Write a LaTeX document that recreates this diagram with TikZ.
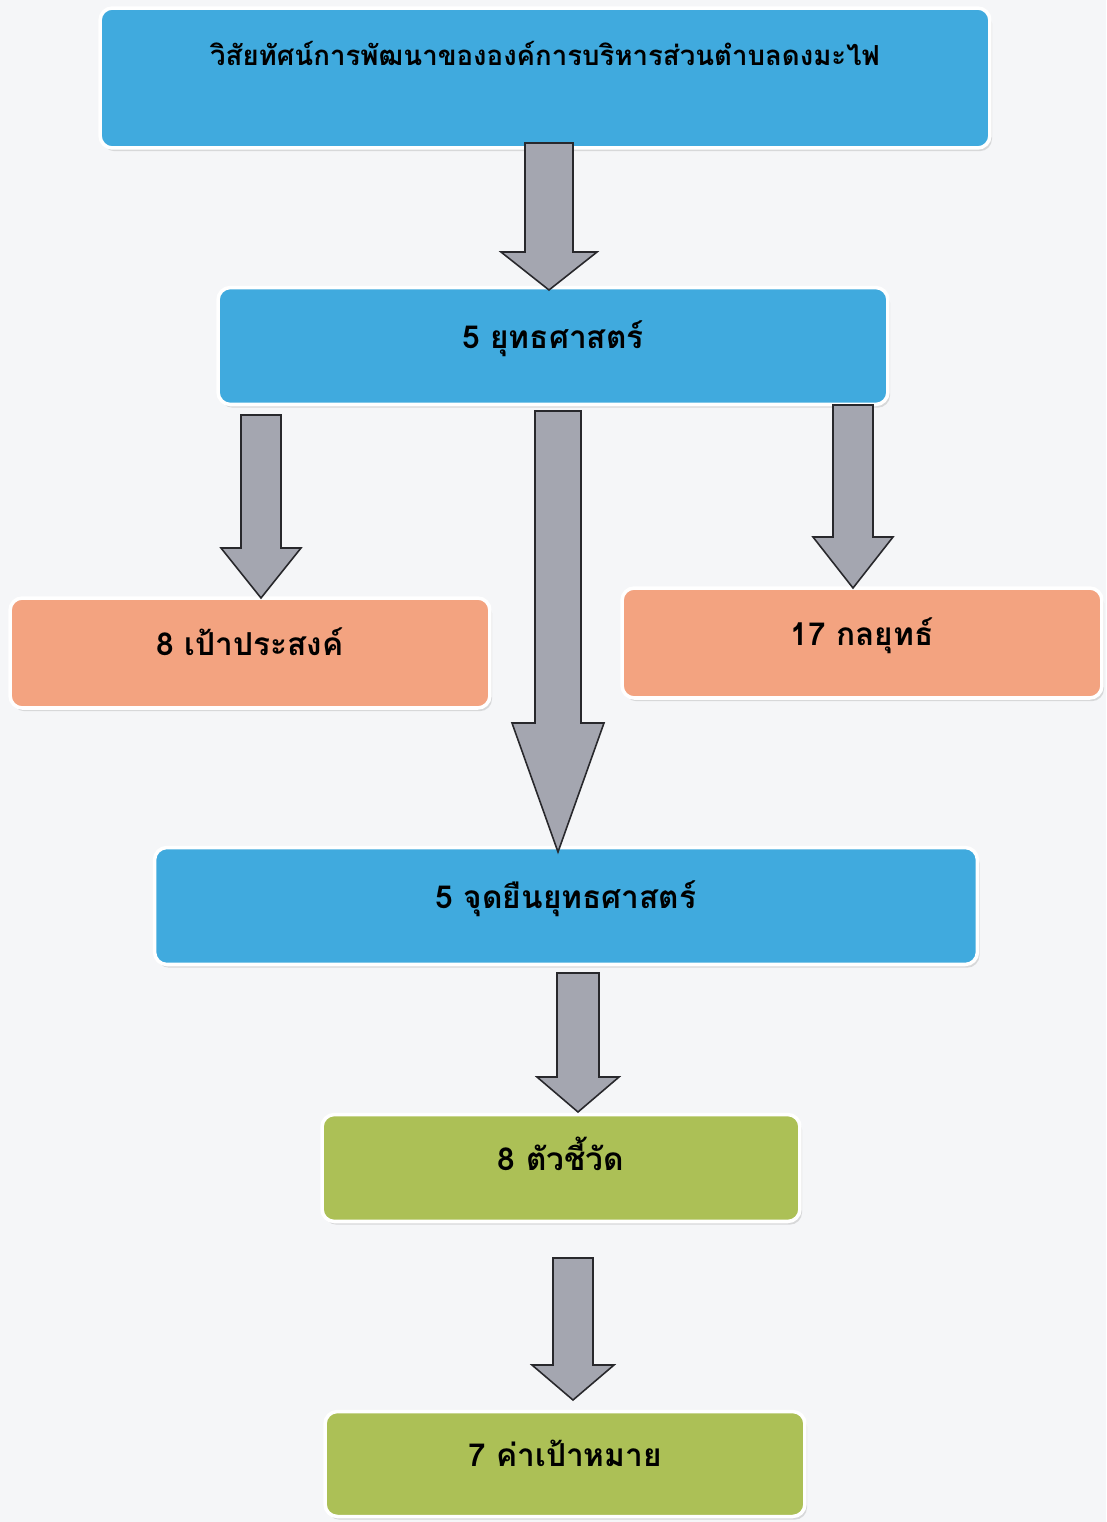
\documentclass[tikz,border=0pt]{standalone}
\usepackage{fontspec}
\newfontfamily\thaifont[Script=Thai]{Loma}
\usetikzlibrary{calc,shadows,positioning}

\definecolor{paper}{RGB}{245,246,248}
\definecolor{boxblue}{RGB}{64,170,222}
\definecolor{boxsalmon}{RGB}{243,163,128}
\definecolor{boxgreen}{RGB}{172,192,86}
\definecolor{arrowgray}{RGB}{164,166,176}
\definecolor{arrowline}{RGB}{40,40,44}

\tikzset{
  stage/.style={rounded corners=7pt, draw=white, line width=2pt,
    font=\thaifont\bfseries\fontsize{18}{21}\selectfont,
    text height=0.5cm, text depth=0.4cm,
    drop shadow={opacity=0.25, shadow xshift=1.2pt, shadow yshift=-1.8pt}},
  bluestage/.style={stage, fill=boxblue},
  salmonstage/.style={stage, fill=boxsalmon},
  greenstage/.style={stage, fill=boxgreen},
  blockarrow/.style={fill=arrowgray, draw=arrowline, line width=0.9pt, line join=miter}
}

% block arrow: start, tip, shaft half width, head half width, head length (px)
\newcommand{\blkarrow}[5]{%
  \draw[blockarrow] ($(#1)+(-#3,0)$) -- ($(#2)+(-#3,-#5)$) -- ($(#2)+(-#4,-#5)$)
    -- (#2) -- ($(#2)+(#4,-#5)$) -- ($(#2)+(#3,-#5)$) -- ($(#1)+(#3,0)$) -- cycle;}

\begin{document}
\begin{tikzpicture}[x=0.02cm, y=-0.02cm]

  \useasboundingbox[fill=paper] (0,0) rectangle (1106,1522);

  \node[bluestage, minimum width=17.8cm, minimum height=2.8cm, text depth=1.0cm,
        font=\thaifont\bfseries\fontsize{15.7}{19}\selectfont] (vision) at (545,78)
    {วิสัยทัศน์การพัฒนาขององค์การบริหารส่วนตำบลดงมะไฟ};
  \node[bluestage, minimum width=13.4cm, minimum height=2.34cm] (strategy) at (553,346) {5 ยุทธศาสตร์};
  \node[salmonstage, minimum width=9.6cm, minimum height=2.2cm] (goal) at (250,653) {8 เป้าประสงค์};
  \node[salmonstage, minimum width=9.6cm, minimum height=2.2cm] (tactic) at (862,643) {17 กลยุทธ์};
  \node[bluestage, minimum width=16.46cm, minimum height=2.34cm] (position) at (566,906) {5 จุดยืนยุทธศาสตร์};
  \node[greenstage, minimum width=9.56cm, minimum height=2.14cm] (indicator) at (561,1168) {8 ตัวชี้วัด};
  \node[greenstage, minimum width=9.6cm, minimum height=2.1cm] (target) at (565,1464) {7 ค่าเป้าหมาย};

  \coordinate (visionOut) at (549,143);   \coordinate (strategyIn) at (549,290);
  \coordinate (goalOut) at (261,415);     \coordinate (goalIn) at (261,598);
  \coordinate (positionOut) at (558,411); \coordinate (positionIn) at (558,852);
  \coordinate (tacticOut) at (853,405);   \coordinate (tacticIn) at (853,588);
  \coordinate (indicatorOut) at (578,973); \coordinate (indicatorIn) at (578,1112);
  \coordinate (targetOut) at (573,1258);  \coordinate (targetIn) at (573,1400);

  \blkarrow{visionOut}{strategyIn}{24}{48}{38}
  \blkarrow{goalOut}{goalIn}{20}{40}{50}
  \blkarrow{positionOut}{positionIn}{23}{46}{129}
  \blkarrow{tacticOut}{tacticIn}{20}{40}{51}
  \blkarrow{indicatorOut}{indicatorIn}{21}{41}{35}
  \blkarrow{targetOut}{targetIn}{20}{41}{35}

\end{tikzpicture}
\end{document}
